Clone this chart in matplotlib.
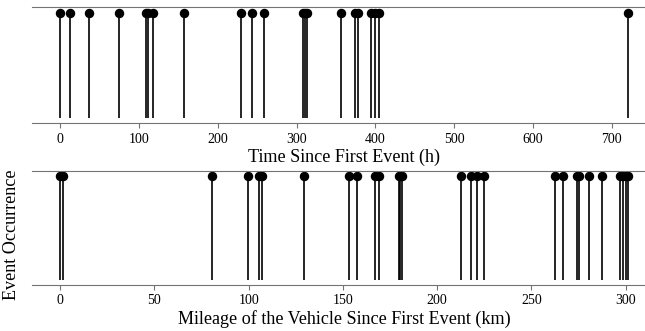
import matplotlib
matplotlib.use('Agg')
import matplotlib.pyplot as plt
import numpy as np

# tiempos de los eventos (horas desde el primero)
horas = [0, 13, 37, 75, 109, 111, 118, 157, 230, 243, 259, 308, 311, 313,
         356, 374, 378, 395, 400, 404, 720]
# kilometraje del vehiculo en cada evento (km)
kilometros = [0, 1.5, 80.5, 99.5, 105.5, 107, 129.5, 153, 157.5, 167, 169,
              179.5, 180.5, 181.5, 212.5, 218, 221, 225, 262.5, 266.5, 274,
              275, 280.5, 287.5, 297, 298.5, 300, 301]

etiqueta_x1 = 'Time Since First Event (h)'
etiqueta_x2 = 'Mileage of the Vehicle Since First Event (km)'
etiqueta_y = 'Event Occurrence'

plt.rcParams['font.family'] = ['Liberation Serif', 'DejaVu Serif']

fig = plt.figure(figsize=(6.45, 3.31), dpi=100)
ax1 = fig.add_axes([0.0491, 0.6269, 0.968, 0.3505])
ax2 = fig.add_axes([0.0491, 0.139, 0.968, 0.344])


def dibujar_eventos(ax, datos, etiqueta):
    st = ax.stem(datos, np.ones(len(datos)),
                 linefmt='k-', markerfmt='ko', basefmt=' ')
    st.stemlines.set_linewidth(1.2)
    st.markerline.set_markersize(5.8)
    ax.set_xlabel(etiqueta, fontsize=13.1, labelpad=2)
    ax.set_yticks([])
    ax.spines['left'].set_visible(False)
    ax.spines['right'].set_visible(False)
    ax.spines['top'].set_color('0.45')
    ax.spines['bottom'].set_color('0.45')
    ax.tick_params(axis='x', length=3.5, color='0.45', labelsize=10, pad=3)


dibujar_eventos(ax1, horas, etiqueta_x1)
dibujar_eventos(ax2, kilometros, etiqueta_x2)

fig.text(12 / 645, 1 - 235 / 331, etiqueta_y, rotation=90, fontsize=13.1,
         ha='center', va='center')

fig.savefig('out.png', dpi=100)
